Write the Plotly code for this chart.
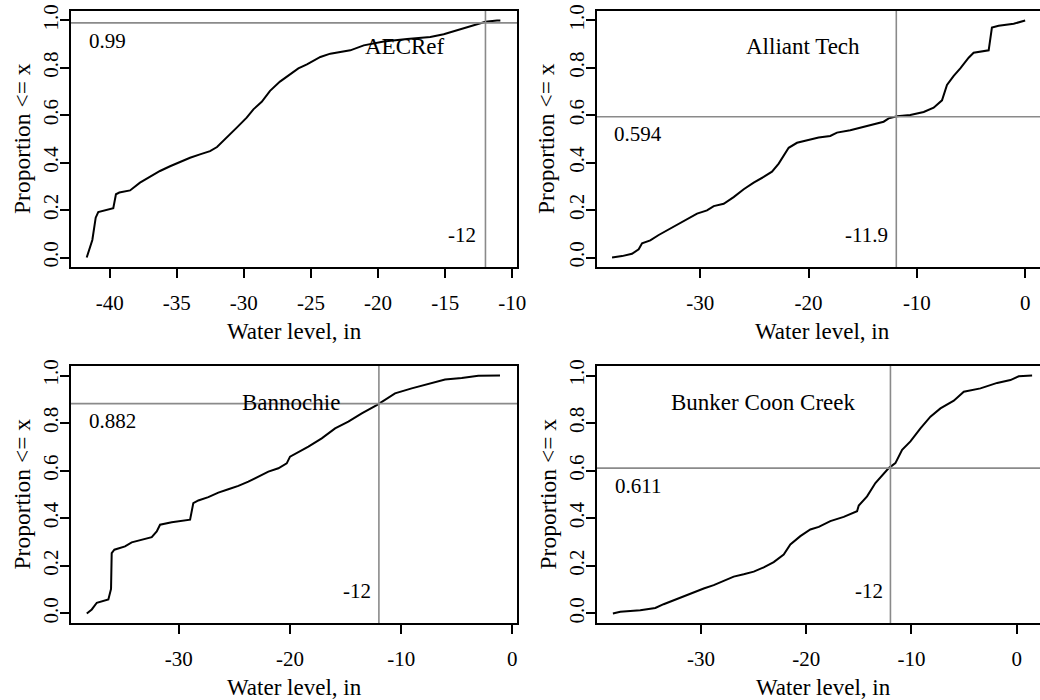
import plotly.graph_objects as go

# ---------------- data ----------------
station_names = ["AECRef", "Alliant Tech", "Bannochie", "Bunker Coon Creek"]

aec_x = [-41.71, -41.29, -41.04, -40.85, -39.73, -39.53, -39.28, -38.48, -37.74, -36.99,
         -36.25, -35.50, -34.76, -34.01, -33.27, -32.52, -32.00, -31.28, -30.53, -29.79,
         -29.29, -28.67, -28.05, -27.31, -26.56, -25.94, -25.30, -24.30, -23.56, -22.07,
         -21.07, -19.58, -17.84, -16.11, -15.11, -14.12, -13.13, -12.63, -12.00, -11.14, -10.89]
aec_y = [0.000, 0.074, 0.168, 0.192, 0.208, 0.267, 0.274, 0.283, 0.316, 0.341,
         0.365, 0.385, 0.404, 0.421, 0.435, 0.449, 0.466, 0.508, 0.548, 0.590,
         0.625, 0.657, 0.703, 0.742, 0.773, 0.798, 0.815, 0.846, 0.860, 0.874,
         0.895, 0.911, 0.922, 0.930, 0.942, 0.959, 0.976, 0.984, 0.995, 1.000, 1.000]

alliant_x = [-38.15, -37.23, -36.31, -35.69, -35.38, -34.62, -33.84, -33.07, -32.15, -31.23,
             -30.30, -29.38, -28.76, -27.84, -26.92, -25.99, -25.07, -24.15, -23.38, -22.76,
             -22.30, -21.84, -21.07, -20.15, -19.07, -18.00, -17.38, -16.15, -14.91, -13.99,
             -13.07, -12.60, -11.84, -10.61, -9.37, -8.45, -7.68, -7.22, -6.60, -5.99,
             -5.22, -4.76, -3.37, -3.07, -2.45, -1.06, -0.14, 0.00]
alliant_y = [0.000, 0.006, 0.016, 0.035, 0.060, 0.072, 0.095, 0.115, 0.140, 0.161,
             0.185, 0.199, 0.217, 0.227, 0.255, 0.288, 0.316, 0.340, 0.362, 0.396,
             0.432, 0.463, 0.484, 0.494, 0.506, 0.513, 0.527, 0.537, 0.551, 0.562,
             0.573, 0.587, 0.596, 0.601, 0.614, 0.632, 0.663, 0.728, 0.766, 0.798,
             0.843, 0.864, 0.874, 0.970, 0.978, 0.986, 1.000, 1.000]

bann_x = [-38.27, -37.82, -37.37, -36.33, -36.09, -36.03, -35.79, -34.83, -34.23, -33.33,
          -32.43, -31.98, -31.68, -30.63, -28.98, -28.69, -28.24, -27.34, -26.44, -25.54,
          -24.64, -23.74, -22.84, -21.94, -21.04, -20.29, -19.99, -19.39, -18.34, -17.14,
          -15.94, -14.75, -13.54, -12.19, -11.45, -10.55, -9.05, -7.55, -6.05, -4.55,
          -3.06, -1.11]
bann_y = [0.000, 0.017, 0.045, 0.059, 0.103, 0.254, 0.268, 0.282, 0.299, 0.310,
          0.321, 0.345, 0.373, 0.383, 0.394, 0.464, 0.475, 0.489, 0.508, 0.522,
          0.536, 0.554, 0.575, 0.596, 0.610, 0.631, 0.659, 0.673, 0.701, 0.736,
          0.778, 0.806, 0.841, 0.876, 0.897, 0.925, 0.946, 0.966, 0.983, 0.990,
          0.999, 1.000]

bunker_x = [-38.37, -37.67, -35.77, -34.34, -33.55, -32.60, -31.64, -30.69, -29.74, -28.79,
            -27.84, -26.89, -25.94, -24.99, -24.04, -23.09, -22.14, -21.51, -20.56, -19.61,
            -18.81, -17.71, -16.44, -15.17, -15.01, -14.22, -13.43, -12.63, -12.16, -11.53,
            -10.89, -10.10, -9.15, -8.20, -7.25, -5.98, -5.03, -3.45, -1.86, -0.60,
            0.19, 1.46]
bunker_y = [0.000, 0.007, 0.014, 0.023, 0.039, 0.056, 0.071, 0.088, 0.105, 0.119,
            0.137, 0.155, 0.165, 0.176, 0.194, 0.216, 0.248, 0.290, 0.325, 0.353,
            0.364, 0.388, 0.406, 0.430, 0.454, 0.492, 0.548, 0.587, 0.611, 0.632,
            0.688, 0.723, 0.778, 0.827, 0.862, 0.894, 0.932, 0.946, 0.969, 0.981,
            0.997, 1.000]

quantile_levels = [0.99, 0.594, 0.882, 0.611]
quantile_labels = ["0.99", "0.594", "0.882", "0.611"]
threshold_values = [-12.0, -11.9, -12.0, -12.0]
threshold_labels = ["-12", "-11.9", "-12", "-12"]

x_ticks_aec = [-40, -35, -30, -25, -20, -15, -10]
x_ticks_other = [-30, -20, -10, 0]
y_ticks = [0.0, 0.2, 0.4, 0.6, 0.8, 1.0]
y_tick_labels = ["0.0", "0.2", "0.4", "0.6", "0.8", "1.0"]
x_title = "Water level, in"
y_title = "Proportion <= x"

# ---------------- layout geometry ----------------
W, H = 1040, 700
FONT = "Liberation Serif, Times New Roman, serif"
FS = 21      # numbers
FT = 23      # titles / station names

series_x = [aec_x, alliant_x, bann_x, bunker_x]
series_y = [aec_y, alliant_y, bann_y, bunker_y]
x_ticks = [x_ticks_aec, x_ticks_other, x_ticks_other, x_ticks_other]
# pixel boxes (left, right, top, bottom)
boxes = [(71, 517, 11, 267), (597, 1040, 11, 267), (71, 517, 366, 623), (597, 1040, 366, 623)]
x_ranges = [[-42.88, -9.65], [-39.54, 1.37], [-39.69, 0.42], [-39.88, 2.21]]
name_pos = [(-18.0, 0.892), (-20.55, 0.892), (-19.9, 0.887), (-24.08, 0.887)]
xtitle_center = [294, 822, 294, 823]
ytitle_x = [22, 546, 21, 547]

fig = go.Figure()
annotations = []
shapes = []

for i in range(4):
    k = "" if i == 0 else str(i + 1)
    l, r, t, b = boxes[i]
    fig.add_trace(go.Scatter(
        x=series_x[i], y=series_y[i], mode="lines",
        line=dict(color="black", width=2, shape="linear"),
        xaxis="x" + k, yaxis="y" + k, showlegend=False, hoverinfo="skip"))

    fig.layout["xaxis" + k] = dict(
        domain=[l / W, r / W], range=x_ranges[i], anchor="y" + k, automargin=False,
        showline=True, linecolor="black", linewidth=1.5, mirror=True,
        ticks="outside", ticklen=9, tickwidth=1.5, tickcolor="black",
        tickvals=x_ticks[i], ticktext=[str(v) for v in x_ticks[i]],
        tickfont=dict(family=FONT, size=FS, color="black"),
        ticklabelstandoff=7,
        showgrid=False, zeroline=False, fixedrange=True)
    fig.layout["yaxis" + k] = dict(
        domain=[1 - b / H, 1 - t / H], range=[-0.04, 1.04], anchor="x" + k, automargin=False,
        showline=True, linecolor="black", linewidth=1.5, mirror=True,
        ticks="outside", ticklen=9, tickwidth=1.5, tickcolor="black",
        tickvals=y_ticks, ticktext=y_tick_labels, tickangle=-90,
        tickfont=dict(family=FONT, size=FS, color="black"),
        ticklabelstandoff=-6,
        showgrid=False, zeroline=False, fixedrange=True)

    xr, yr = "x" + k, "y" + k
    # reference lines
    shapes.append(dict(type="line", xref=xr + " domain", yref=yr, x0=0, x1=1,
                       y0=quantile_levels[i], y1=quantile_levels[i],
                       line=dict(color="#8a8a8a", width=1.6)))
    shapes.append(dict(type="line", xref=xr, yref=yr + " domain",
                       x0=threshold_values[i], x1=threshold_values[i], y0=0, y1=1,
                       line=dict(color="#8a8a8a", width=1.6)))
    # text labels
    annotations.append(dict(xref=xr, yref=yr, x=series_x[i][0], y=quantile_levels[i] - 0.075,
                            text=quantile_labels[i], showarrow=False, xanchor="left", yanchor="middle",
                            font=dict(family=FONT, size=FS, color="black")))
    annotations.append(dict(xref=xr, yref=yr, x=name_pos[i][0], y=name_pos[i][1],
                            text=station_names[i], showarrow=False, xanchor="center", yanchor="middle",
                            font=dict(family=FONT, size=FT, color="black")))
    annotations.append(dict(xref=xr, yref=yr, x=threshold_values[i] - 0.55, y=0.095,
                            text=threshold_labels[i], showarrow=False, xanchor="right", yanchor="middle",
                            font=dict(family=FONT, size=FS, color="black")))
    # axis titles
    annotations.append(dict(xref="paper", yref="paper", x=xtitle_center[i] / W,
                            y=1 - (b + 64) / H, text=x_title, showarrow=False,
                            xanchor="center", yanchor="middle",
                            font=dict(family=FONT, size=FT, color="black")))
    annotations.append(dict(xref="paper", yref="paper", x=ytitle_x[i] / W,
                            y=1 - ((t + b) / 2) / H, text=y_title, showarrow=False, textangle=-90,
                            xanchor="center", yanchor="middle",
                            font=dict(family=FONT, size=FT + 0.5, color="black")))

fig.update_layout(
    template="none",
    width=W, height=H, autosize=False,
    margin=dict(l=0, r=0, t=0, b=0, pad=0),
    paper_bgcolor="white", plot_bgcolor="white",
    annotations=annotations, shapes=shapes,
    font=dict(family=FONT, color="black"),
)

fig.write_html("out.html", config={"displayModeBar": False},
               post_script="document.body.style.margin='0px';document.body.style.padding='0px';")
